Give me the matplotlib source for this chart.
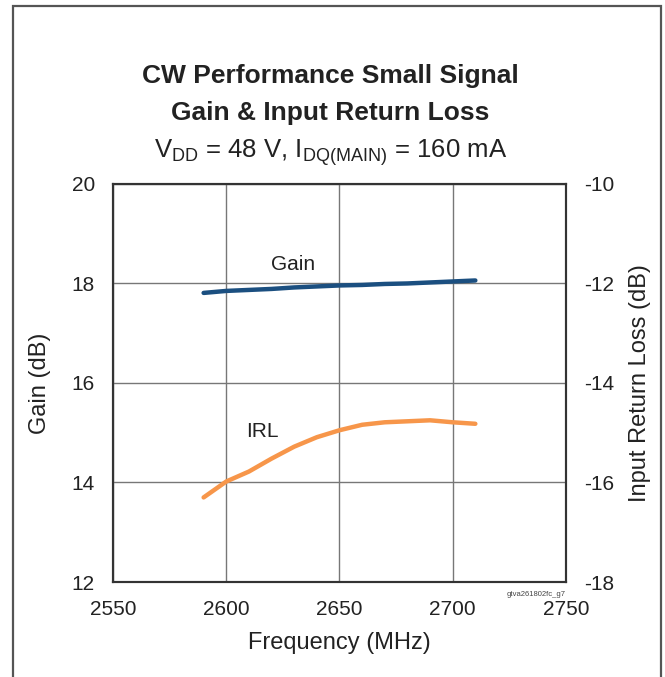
import numpy as np
import matplotlib.pyplot as plt
from matplotlib.patches import Rectangle

plt.rcParams['font.family'] = ['Liberation Sans', 'DejaVu Sans']
plt.rcParams['axes.unicode_minus'] = False

# data
freq = [2590, 2600, 2610, 2620, 2630, 2640, 2650, 2660, 2670, 2680, 2690, 2700, 2710]
gain = [17.81, 17.85, 17.87, 17.89, 17.92, 17.94, 17.96, 17.97, 17.99, 18.00, 18.02, 18.04, 18.06]
irl = [-16.30, -15.98, -15.78, -15.52, -15.28, -15.09, -14.95, -14.84, -14.79, -14.77, -14.75, -14.79, -14.82]

fig = plt.figure(figsize=(6.65, 6.77), dpi=100)
ax = fig.add_axes([0.170, 0.1403, 0.681, 0.588])
ax2 = ax.twinx()

ax.plot(freq, gain, color='#1b4f80', lw=3.2, solid_capstyle='round', zorder=3)
ax2.plot(freq, irl, color='#f7964a', lw=3.2, solid_capstyle='round', zorder=3)

ax.set_xlim(2550, 2750)
ax.set_ylim(12, 20)
ax2.set_ylim(-18, -10)
ax.set_xticks([2550, 2600, 2650, 2700, 2750])
ax.set_yticks([12, 14, 16, 18, 20])
ax2.set_yticks([-18, -16, -14, -12, -10])
ax.grid(True, color='#777777', lw=1.0)
ax.set_axisbelow(True)

for a in (ax, ax2):
    a.tick_params(length=0, labelsize=15, colors='#222222', pad=13)
    for s in a.spines.values():
        s.set_color('#333333')
        s.set_linewidth(1.5)

ax.set_xlabel('Frequency (MHz)', fontsize=17, color='#222222', labelpad=9)
ax.set_ylabel('Gain (dB)', fontsize=17, color='#222222', labelpad=15)
ax2.set_ylabel('Input Return Loss (dB)', fontsize=17, color='#222222', labelpad=11)

ax.text(2629.5, 18.38, 'Gain', fontsize=15, ha='center', va='center', color='#222222')
ax.text(2616, 15.02, 'IRL', fontsize=15, ha='center', va='center', color='#222222')
ax.text(1.0, -0.022, 'gtva261802fc_g7', transform=ax.transAxes, fontsize=5.5,
        ha='right', va='top', color='#444444')

fig.text(0.497, 0.877, 'CW Performance Small Signal', fontsize=19, fontweight='bold',
         ha='center', va='baseline', color='#222222')
fig.text(0.497, 0.823, 'Gain & Input Return Loss', fontsize=19, fontweight='bold',
         ha='center', va='baseline', color='#222222')
fig.text(0.497, 0.768, r'V$_{\mathregular{DD}}$ = 48 V, I$_{\mathregular{DQ(MAIN)}}$ = 160 mA',
         fontsize=18.5, ha='center', va='baseline', color='#222222')

fig.patches.append(Rectangle((12.5 / 665, -0.02), (660.5 - 12.5) / 665, 1.0 + 0.02 - 5.5 / 677,
                             transform=fig.transFigure, fill=False, ec='#555555', lw=1.6))

fig.savefig('out.png', dpi=100)
